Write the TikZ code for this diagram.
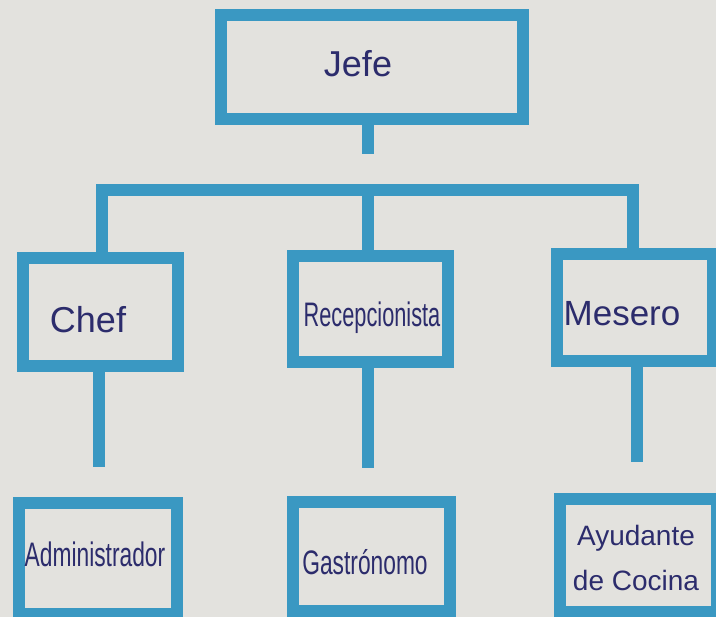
\documentclass[tikz,border=0pt]{standalone}
\usepackage{fontspec}
\setmainfont{Liberation Sans}
\usepackage{graphicx}
\definecolor{boxblue}{HTML}{3A98C2}
\definecolor{paper}{HTML}{E3E2DE}
\definecolor{ink}{HTML}{2C2C6C}
\begin{document}
\begin{tikzpicture}[x=1pt,y=-1pt,
  box/.style={draw=boxblue, line width=11.5pt, rectangle, inner sep=0pt, outer sep=0pt},
  wire/.style={draw=boxblue, line width=11.5pt, line join=miter},
  lbl/.style={text=ink, inner sep=0pt, align=center}]
\useasboundingbox (0,0) rectangle (716,617);
\clip (0,0) rectangle (716,617);
\fill[paper] (0,0) rectangle (716,617);

% boxes
\node[box, minimum width=302pt, minimum height=104pt] (jefe) at (372,67) {};
\node[box, minimum width=155pt, minimum height=108pt] (chef) at (100.5,312) {};
\node[box, minimum width=155pt, minimum height=106pt] (recep) at (370.5,309) {};
\node[box, minimum width=156pt, minimum height=107pt] (mesero) at (635,307.5) {};
\node[box, minimum width=158pt, minimum height=111pt] (admin) at (98,558.5) {};
\node[box, minimum width=157pt, minimum height=109pt] (gastro) at (371.5,556.5) {};
\node[box, minimum width=157pt, minimum height=113pt] (ayud) at (638.5,555.5) {};

% connector points
\coordinate (jefeEnd) at (368,154);
\coordinate (barL) at (102,190);
\coordinate (barR) at (633,190);
\coordinate (recepDrop) at (368,190);
\coordinate (chefEnd) at (99,467);
\coordinate (recepEnd) at (368,468);
\coordinate (meseroEnd) at (637,462);

% connectors
\draw[wire] (jefe.south -| jefeEnd) -- (jefeEnd);
\draw[wire] (chef.north -| barL) -- (barL) -- (barR) -- (mesero.north -| barR);
\draw[wire] (recep.north -| recepDrop) -- (recepDrop);
\draw[wire] (chef.south -| chefEnd) -- (chefEnd);
\draw[wire] (recep.south -| recepEnd) -- (recepEnd);
\draw[wire] (mesero.south -| meseroEnd) -- (meseroEnd);

% labels
\node[lbl, font=\fontsize{36}{40}\selectfont] (jefeT) at (358,64) {Jefe};
\node[lbl, font=\fontsize{36}{40}\selectfont] (chefT) at (88,320) {Chef};
\node[lbl, font=\fontsize{34}{40}\selectfont] (recepT) at (372,318) {\scalebox{0.64}[1]{Recepcionista}};
\node[lbl, font=\fontsize{35}{40}\selectfont] (meseroT) at (622,314) {Mesero};
\node[lbl, font=\fontsize{34}{40}\selectfont] (adminT) at (95,554) {\scalebox{0.67}[1]{Administrador}};
\node[lbl, font=\fontsize{34}{40}\selectfont] (gastroT) at (365,562) {\scalebox{0.67}[1]{Gastrónomo}};
\node[lbl, font=\fontsize{28}{45}\selectfont] (ayudT) at (636,558) {Ayudante\\de Cocina};
\end{tikzpicture}
\end{document}
